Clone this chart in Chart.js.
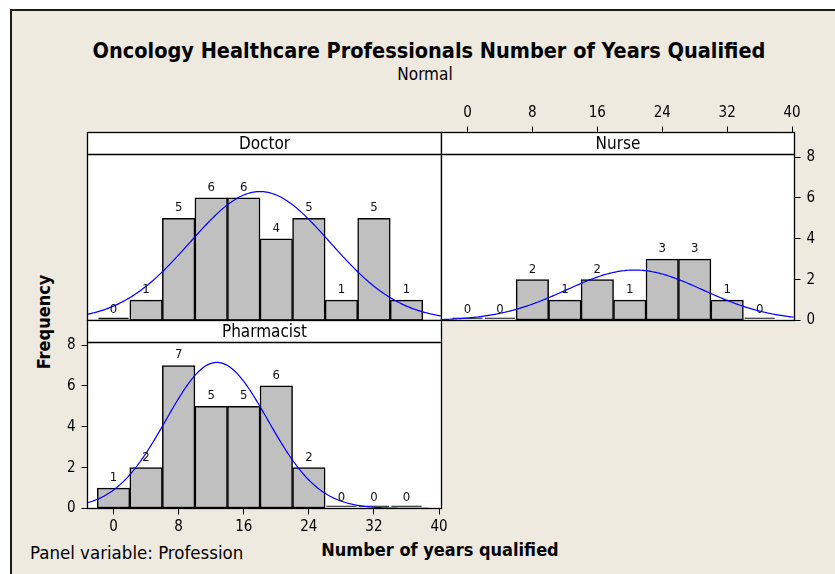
<!DOCTYPE html>
<html>
<head>
<meta charset="utf-8">
<script src="https://cdn.jsdelivr.net/npm/chart.js@4.4.1/dist/chart.umd.min.js"></script>
<style>
  html, body { margin: 0; padding: 0; background: #fff; }
  body { width: 835px; height: 574px; position: relative; overflow: hidden;
         font-family: 'DejaVu Sans Condensed', 'DejaVu Sans', sans-serif; }
  #frame { position: absolute; left: 10px; top: 9px; width: 830px; height: 570px;
           background: #EEEAE0; border-left: 2px solid #1a1a1a; border-top: 2px solid #1a1a1a; }
  canvas { position: absolute; }
  .txt { position: absolute; white-space: nowrap; color: #000; line-height: 1; }
</style>
</head>
<body>
<div id="frame"></div>
<div class="txt" style="left:429px; top:40px; transform:translateX(-50%); font-weight:bold; font-size:21.5px;">Oncology Healthcare Professionals Number of Years Qualified</div>
<div class="txt" style="left:425px; top:66px; transform:translateX(-50%); font-size:17px;">Normal</div>
<div class="txt" style="left:44px; top:322px; transform:translate(-50%,-50%) rotate(-90deg); font-weight:bold; font-size:18px;">Frequency</div>
<div class="txt" style="left:440px; top:541px; transform:translateX(-50%); font-weight:bold; font-size:18px;">Number of years qualified</div>
<div class="txt" style="left:30px; top:544px; font-size:18.5px;">Panel variable: Profession</div>

<canvas id="doctor" style="left:80px; top:125px;" width="370" height="205"></canvas>
<canvas id="pharmacist" style="left:35px; top:315px;" width="425" height="230"></canvas>
<canvas id="nurse" style="left:436px; top:95px;" width="399" height="235"></canvas>

<script>
// histogram bins (midpoints, width 4)
const binCenters = [0, 4, 8, 12, 16, 20, 24, 28, 32, 36];
const binWidth = 4;

const doctorCounts     = [0, 1, 5, 6, 6, 4, 5, 1, 5, 1];
const nurseCounts      = [0, 0, 2, 1, 2, 1, 3, 3, 1, 0];
const pharmacistCounts = [1, 2, 7, 5, 5, 6, 2, 0, 0, 0];

// fitted normal parameters
const doctorFit     = { mean: 18.0, sd: 8.6 };
const nurseFit      = { mean: 20.6, sd: 8.4 };
const pharmacistFit = { mean: 12.7, sd: 6.25 };

const xTicks = [0, 8, 16, 24, 32, 40];
const yTicks = [0, 2, 4, 6, 8];

const xMin = -3.2, xMax = 40.3, yMax = 9.2;
const stripH = 22;
const FONT = "'DejaVu Sans Condensed', 'DejaVu Sans', sans-serif";

function normalCurve(fit, counts) {
    const n = counts.reduce((a, b) => a + b, 0);
    const pts = [];
    for (let x = xMin; x <= xMax + 0.001; x += 0.2) {
        const z = (x - fit.mean) / fit.sd;
        pts.push({ x: x, y: n * binWidth * Math.exp(-0.5 * z * z) / (fit.sd * Math.sqrt(2 * Math.PI)) });
    }
    return pts;
}

const panelPlugin = {
    id: 'panel',
    beforeDraw(chart) {
        const a = chart.chartArea, ctx = chart.ctx;
        ctx.save();
        ctx.fillStyle = '#fff';
        ctx.fillRect(a.left, a.top, a.right - a.left, a.bottom - a.top);
        ctx.restore();
    },
    afterDatasetsDraw(chart, args, opts) {
        const a = chart.chartArea, ctx = chart.ctx;
        const yScale = chart.scales.y;
        const bars = chart.getDatasetMeta(1).data;
        const counts = opts.counts;
        ctx.save();
        ctx.font = '13px ' + FONT;
        ctx.fillStyle = '#111';
        ctx.textAlign = 'center';
        ctx.textBaseline = 'bottom';
        bars.forEach((bar, i) => {
            ctx.fillText(String(counts[i]), bar.x, yScale.getPixelForValue(counts[i]) - 4);
        });
        // strip
        ctx.fillStyle = '#fff';
        ctx.fillRect(a.left, a.top, a.right - a.left, stripH);
        ctx.fillStyle = '#000';
        ctx.font = '17px ' + FONT;
        ctx.textBaseline = 'middle';
        ctx.fillText(opts.name, (a.left + a.right) / 2, a.top + stripH / 2 + 1);
        ctx.restore();
    },
    afterDraw(chart) {
        const a = chart.chartArea, ctx = chart.ctx;
        ctx.save();
        ctx.strokeStyle = '#000';
        ctx.lineWidth = 1.3;
        ctx.strokeRect(a.left, a.top, a.right - a.left, a.bottom - a.top);
        ctx.beginPath();
        ctx.moveTo(a.left, a.top + stripH);
        ctx.lineTo(a.right, a.top + stripH);
        ctx.stroke();
        ctx.restore();
    }
};

function tickFont() {
    return { family: FONT, size: 15 };
}

function noPad(s) {
    s.paddingTop = 0; s.paddingBottom = 0; s.paddingLeft = 0; s.paddingRight = 0;
}

function xAxis(show, position, height) {
    return {
        type: 'linear', min: xMin, max: xMax, offset: false, display: show, position: position,
        afterBuildTicks: s => { s.ticks = xTicks.map(v => ({ value: v })); },
        afterFit: s => { s.height = height; noPad(s); },
        grid: { offset: false, drawOnChartArea: false, color: '#000', tickLength: 6 },
        border: { color: '#000' },
        ticks: { color: '#000', font: tickFont(), padding: 4, autoSkip: false, maxRotation: 0 }
    };
}

function yAxis(show, position, width) {
    return {
        min: 0, max: yMax, display: show, position: position,
        afterBuildTicks: s => { s.ticks = yTicks.map(v => ({ value: v })); },
        afterFit: s => { s.width = width; noPad(s); },
        grid: { drawOnChartArea: false, color: '#000', tickLength: 6 },
        border: { color: '#000' },
        ticks: { color: '#000', font: tickFont(), padding: 6, autoSkip: false }
    };
}

function makePanel(id, name, counts, fit, scales, padding) {
    return new Chart(document.getElementById(id), {
        type: 'bar',
        data: {
            datasets: [{
                type: 'line',
                data: normalCurve(fit, counts),
                borderColor: '#0000ff',
                borderWidth: 1.2,
                pointRadius: 0,
                fill: false,
                tension: 0,
                order: 0
            }, {
                type: 'bar',
                data: binCenters.map((c, i) => ({ x: c, y: counts[i] })),
                // empty bins show only as a dark line on the base
                backgroundColor: counts.map(v => v === 0 ? '#111' : '#c0c0c0'),
                borderColor: counts.map(v => v === 0 ? 'rgba(0,0,0,0)' : '#000'),
                borderWidth: 1.5,
                borderSkipped: false,
                barPercentage: 1,
                categoryPercentage: 1,
                minBarLength: 4,
                order: 1
            }]
        },
        options: {
            responsive: false,
            animation: false,
            layout: { padding: padding },
            scales: scales,
            plugins: {
                legend: { display: false },
                tooltip: { enabled: false },
                panel: { name: name, counts: counts }
            }
        },
        plugins: [panelPlugin]
    });
}

// Doctor: no visible axes
makePanel('doctor', 'Doctor', doctorCounts, doctorFit,
    { x: xAxis(false, 'bottom', 0), y: yAxis(false, 'left', 0) },
    { left: 7.5, top: 7.5, right: 8.5, bottom: 9.5 });

// Nurse: x axis on top, y axis on right
makePanel('nurse', 'Nurse', nurseCounts, nurseFit,
    { x: xAxis(true, 'top', 37.5), y: yAxis(true, 'right', 30) },
    { left: 5.5, top: 0, right: 10.5, bottom: 9.5 });

// Pharmacist: x axis bottom, y axis left
makePanel('pharmacist', 'Pharmacist', pharmacistCounts, pharmacistFit,
    { x: xAxis(true, 'bottom', 30), y: yAxis(true, 'left', 52.5) },
    { left: 0, top: 5.5, right: 18.5, bottom: 6.5 });
</script>
</body>
</html>
